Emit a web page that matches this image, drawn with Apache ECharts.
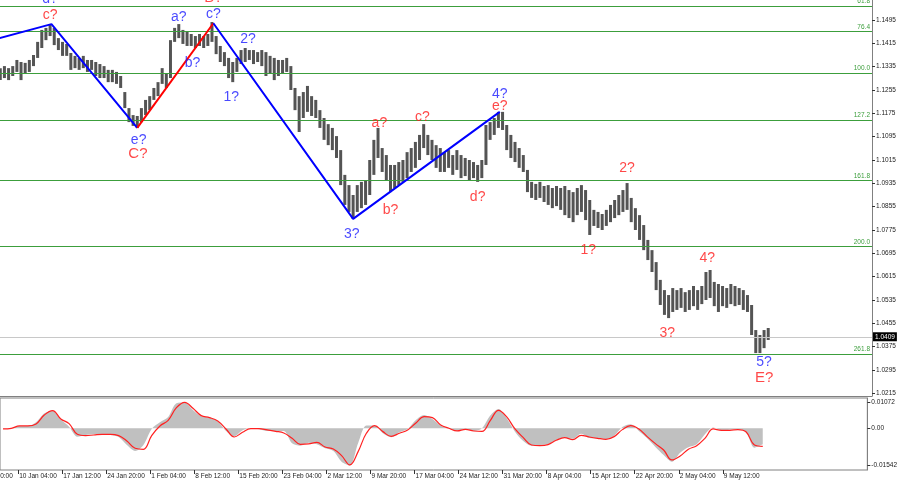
<!DOCTYPE html>
<html><head><meta charset="utf-8">
<script src="https://cdn.jsdelivr.net/npm/echarts@6/dist/echarts.min.js"></script>
<style>html,body{margin:0;padding:0;background:#fff}#c{width:900px;height:485px}</style>
</head><body><div id="c"></div>
<script>
// ---- data (H4 bar index on x; each price bar below aggregates 3 H4 bars = 12h) ----
const timeTickValues = [0,32,64,96,128,160,192,224,256,288,320,352,384,416,448,480,512,544];
const timeTickLabels = ['31 Dec 20:00','10 Jan 04:00','17 Jan 12:00','24 Jan 20:00','1 Feb 04:00','8 Feb 12:00','15 Feb 20:00','23 Feb 04:00','2 Mar 12:00','9 Mar 20:00','17 Mar 04:00','24 Mar 12:00','31 Mar 20:00','8 Apr 04:00','15 Apr 12:00','22 Apr 20:00','2 May 04:00','9 May 12:00'];
const priceTicks = [1.0215,1.0295,1.0375,1.0455,1.0535,1.0615,1.0695,1.0775,1.0855,1.0935,1.1015,1.1095,1.1175,1.1255,1.1335,1.1415,1.1495];
const macdTicks = [-0.01542, 0, 0.01072];

const barFirstIndex = 19, barStep = 3;
const priceHigh = [1.1330,1.1337,1.1330,1.1337,1.1358,1.1351,1.1348,1.1358,1.1375,1.1420,
1.1461,1.1468,1.1481,1.1468,1.1433,1.1420,1.1413,1.1382,1.1372,1.1365,
1.1372,1.1358,1.1358,1.1351,1.1344,1.1337,1.1324,1.1324,1.1317,1.1303,
1.1248,1.1193,1.1169,1.1166,1.1193,1.1221,1.1234,1.1262,1.1282,1.1330,
1.1310,1.1426,1.1468,1.1481,1.1461,1.1454,1.1447,1.1440,1.1447,1.1440,
1.1447,1.1488,1.1440,1.1406,1.1385,1.1365,1.1351,1.1365,1.1392,1.1399,
1.1392,1.1392,1.1385,1.1392,1.1385,1.1372,1.1365,1.1358,1.1358,1.1365,
1.1337,1.1262,1.1234,1.1248,1.1269,1.1234,1.1221,1.1186,1.1159,1.1138,
1.1125,1.1097,1.1049,1.0964,1.0929,1.0895,1.0929,1.0940,1.0946,1.1015,
1.1084,1.1125,1.1056,1.1032,1.0998,1.0998,1.1008,1.1015,1.1042,1.1056,
1.1077,1.1101,1.1138,1.1101,1.1084,1.1066,1.1056,1.1042,1.1049,1.1032,
1.1049,1.1032,1.1022,1.1015,1.1008,1.0998,1.1015,1.1135,1.1145,1.1159,
1.1180,1.1180,1.1135,1.1101,1.1077,1.1056,1.1032,1.0981,1.0940,1.0933,
1.0940,1.0926,1.0929,1.0919,1.0926,1.0919,1.0926,1.0912,1.0905,1.0919,
1.0929,1.0912,1.0878,1.0844,1.0837,1.0830,1.0844,1.0861,1.0878,1.0895,
1.0912,1.0936,1.0885,1.0850,1.0826,1.0792,1.0741,1.0706,1.0665,1.0604,
1.0569,1.0552,1.0576,1.0569,1.0576,1.0562,1.0569,1.0583,1.0569,1.0583,
1.0631,1.0638,1.0597,1.0590,1.0583,1.0576,1.0590,1.0583,1.0576,1.0569,
1.0552,1.0518,1.0432,1.0415,1.0432,1.0439];
const priceLow = [1.1289,1.1296,1.1289,1.1303,1.1317,1.1289,1.1310,1.1317,1.1337,1.1365,
1.1399,1.1426,1.1440,1.1409,1.1392,1.1372,1.1372,1.1324,1.1330,1.1324,
1.1330,1.1317,1.1324,1.1303,1.1296,1.1296,1.1282,1.1282,1.1276,1.1262,
1.1193,1.1145,1.1132,1.1125,1.1145,1.1169,1.1186,1.1221,1.1234,1.1276,
1.1262,1.1296,1.1420,1.1433,1.1413,1.1406,1.1406,1.1399,1.1406,1.1399,
1.1406,1.1420,1.1378,1.1351,1.1337,1.1296,1.1282,1.1317,1.1344,1.1351,
1.1358,1.1344,1.1351,1.1337,1.1303,1.1310,1.1289,1.1303,1.1310,1.1317,
1.1255,1.1186,1.1111,1.1159,1.1180,1.1166,1.1159,1.1125,1.1084,1.1066,
1.1049,1.1022,1.0929,1.0861,1.0837,1.0813,1.0837,1.0850,1.0861,1.0895,
1.0964,1.1022,1.0974,1.0946,1.0905,1.0919,1.0929,1.0940,1.0953,1.0974,
1.0988,1.1015,1.1056,1.1032,1.1015,1.0988,1.0974,1.0974,1.0988,1.0964,
1.0981,1.0953,1.0960,1.0946,1.0953,1.0940,1.0953,1.0998,1.1084,1.1101,
1.1125,1.1118,1.1049,1.1022,1.1008,1.0988,1.0974,1.0905,1.0885,1.0878,
1.0885,1.0871,1.0861,1.0850,1.0857,1.0844,1.0826,1.0816,1.0802,1.0826,
1.0837,1.0809,1.0758,1.0789,1.0782,1.0775,1.0789,1.0802,1.0816,1.0826,
1.0837,1.0844,1.0802,1.0775,1.0741,1.0706,1.0672,1.0631,1.0569,1.0518,
1.0484,1.0473,1.0494,1.0501,1.0508,1.0494,1.0501,1.0514,1.0501,1.0521,
1.0535,1.0542,1.0514,1.0494,1.0514,1.0508,1.0521,1.0514,1.0518,1.0501,
1.0494,1.0415,1.0353,1.0353,1.0370,1.0398];
const lastPrice = 1.0409;

const fibNames = ['61.8','76.4','100.0','127.2','161.8','200.0','261.8'];
const fibLevels = [1.1543,1.1455,1.1314,1.1152,1.0945,1.0718,1.0350];

const blueWave1 = [[10,1.1422],[56,1.1481],[118,1.1125]];
const redWave = [[118,1.1125],[173,1.1484]];
const blueWave2 = [[173,1.1484],[274,1.0813],[380,1.1180]];

const blueLabels = [['d?',55,1.1567],['e?',119,1.1084],['a?',148,1.1505],['c?',173,1.1516],['b?',158,1.1348],['1?',186,1.1231],['2?',198,1.1430],['3?',273,1.0761],['4?',380,1.1241],['5?',571,1.0322]];
const redLabels = [['c?',55,1.1512],['a?',293,1.1142],['b?',301,1.0844],['c?',324,1.1162],['d?',364,1.0888],['e?',380,1.1200],['1?',444,1.0706],['2?',472,1.0988],['3?',501,1.0422],['4?',530,1.0679]];
const redMajorLabels = [['C?',118.5,1.1036],['B?',173,1.1570],['E?',571,1.0267]];

const macdFirstIndex = 21, macdStep = 6;
const macdHist = [-0.00014,0,0.00097,0.00097,0.00249,0.00622,0.00733,0.00360,0.00069,-0.00346,
-0.00277,-0.00249,-0.00249,-0.00277,-0.00360,-0.00692,-0.00940,-0.00692,-0.00028,0.00249,
0.00470,0.01037,0.01072,0.00761,0.00498,0.00443,0.00277,-0.00111,-0.00332,-0.00083,
0,-0.00041,-0.00111,-0.00111,-0.00111,-0.00622,-0.00719,-0.00595,-0.00664,-0.00830,
-0.00940,-0.01383,-0.01542,-0.00622,0.00111,0.00111,-0.00207,-0.00373,-0.00166,-0.00028,
0.00346,0.00553,0.00387,0.00111,-0.00014,-0.00111,-0.00041,-0.00111,0,0.00526,
0.00802,0.00415,-0.00138,-0.00526,-0.00719,-0.00692,-0.00650,-0.00484,-0.00387,-0.00429,
-0.00221,-0.00401,-0.00415,-0.00443,-0.00304,0.00055,0.00166,-0.00111,-0.00415,-0.00774,
-0.01106,-0.01383,-0.01010,-0.00788,-0.00664,-0.00249,0.00028,-0.00083,-0.00055,-0.00028,
-0.00180,-0.00802,-0.00664];
const macdSignal = [-0.00028,0,0.00097,0.00097,0.00180,0.00553,0.00733,0.00387,0.00194,-0.00249,
-0.00304,-0.00277,-0.00249,-0.00249,-0.00304,-0.00526,-0.00830,-0.00871,-0.00304,0.00097,
0.00332,0.00857,0.01079,0.00830,0.00526,0.00443,0.00304,-0.00028,-0.00360,-0.00166,
-0.00014,-0.00014,-0.00069,-0.00125,-0.00194,-0.00415,-0.00664,-0.00650,-0.00581,-0.00774,
-0.00857,-0.01134,-0.01521,-0.00968,-0.00207,0.00111,-0.00138,-0.00332,-0.00207,-0.00069,
0.00221,0.00484,0.00443,0.00138,0,-0.00111,-0.00041,-0.00111,-0.00125,0.00318,
0.00747,0.00470,-0.00028,-0.00387,-0.00692,-0.00719,-0.00678,-0.00498,-0.00387,-0.00470,
-0.00290,-0.00360,-0.00415,-0.00456,-0.00346,-0.00055,0.00111,-0.00028,-0.00346,-0.00636,
-0.00899,-0.01314,-0.01148,-0.00871,-0.00719,-0.00415,-0.00028,-0.00083,-0.00083,-0.00055,
-0.00152,-0.00692,-0.00747];

// ---- build ----
const FONT = 'Liberation Sans';
const X_MIN = 18.8, X_MAX = 649;
const bars = priceHigh.map((h, i) => [barFirstIndex + barStep * i, priceLow[i], h]);
const histData = macdHist.map((v, i) => [macdFirstIndex + macdStep * i, v]);
const sigData = macdSignal.map((v, i) => [macdFirstIndex + macdStep * i, v]);
const toItems = arr => arr.map(a => ({ name: a[0], value: [a[1], a[2]] }));
const GREEN = '#3c9e3c';

const labelSeries = (items, color, size) => ({
  type: 'scatter', xAxisIndex: 0, yAxisIndex: 0, data: toItems(items), symbol: 'circle', symbolSize: 1,
  itemStyle: { color: 'rgba(0,0,0,0)' }, clip: false, z: 10, silent: true,
  label: { show: true, position: 'inside', formatter: '{b}', color: color, fontSize: size, fontFamily: FONT }
});

const chart = echarts.init(document.getElementById('c'), null, { renderer: 'canvas' });
chart.setOption({
  animation: false,
  backgroundColor: '#ffffff',
  grid: [
    { left: 0, right: 28, top: 0, height: 396, show: false },
    { left: 0, right: 28, top: 398, height: 72, show: true, borderColor: '#808080', borderWidth: 1, backgroundColor: 'transparent' }
  ],
  xAxis: [
    { gridIndex: 0, type: 'value', min: X_MIN, max: X_MAX, axisLine: { show: true, onZero: false, lineStyle: { color: '#808080' } },
      axisTick: { show: false }, axisLabel: { show: false }, splitLine: { show: false } },
    { gridIndex: 1, type: 'value', min: X_MIN, max: X_MAX, axisLine: { show: false, onZero: false },
      axisTick: { show: true, customValues: timeTickValues.slice(1), length: 4, lineStyle: { color: '#333' } },
      axisLabel: { show: true, customValues: timeTickValues.slice(1), showMinLabel: true, showMaxLabel: true, align: 'left', margin: 3, padding: [0,0,0,1],
        fontSize: 6.5, fontFamily: FONT, color: '#222', formatter: v => timeTickLabels[timeTickValues.indexOf(v)] || '' },
      splitLine: { show: false } }
  ],
  yAxis: [
    { gridIndex: 0, type: 'value', position: 'right', min: 1.02059, max: 1.15636,
      axisLine: { show: true, lineStyle: { color: '#808080' } },
      axisTick: { show: true, customValues: priceTicks, length: 3, lineStyle: { color: '#333' } },
      axisLabel: { show: true, customValues: priceTicks, margin: 4, fontSize: 6.5, fontFamily: FONT, color: '#222', formatter: v => v.toFixed(4) },
      splitLine: { show: false } },
    { gridIndex: 1, type: 'value', position: 'right', min: -0.0173, max: 0.01257,
      axisLine: { show: true, lineStyle: { color: '#808080' } },
      axisTick: { show: true, customValues: macdTicks, length: 3, lineStyle: { color: '#333' } },
      axisLabel: { show: true, customValues: macdTicks, margin: 4, fontSize: 6.5, fontFamily: FONT, color: '#222', formatter: v => v === 0 ? '0.00' : v.toFixed(5) },
      splitLine: { show: false } }
  ],
  series: [
    { type: 'line', name: 'levels', xAxisIndex: 0, yAxisIndex: 0, data: [], z: 1, silent: true,
      markLine: { symbol: 'none', silent: true, animation: false, precision: 6,
        data: fibLevels.map((v, i) => ({ yAxis: v, lineStyle: { color: GREEN, width: 1.2, type: 'solid' },
          label: { show: true, position: 'insideEndTop', formatter: fibNames[i], color: GREEN, fontSize: 6.5, fontFamily: FONT, distance: [2, 1] } }))
          .concat([{ yAxis: lastPrice, lineStyle: { color: '#c8c8c8', width: 1, type: 'solid' },
            label: { show: true, position: 'end', formatter: lastPrice.toFixed(4), color: '#fff', backgroundColor: '#000', fontSize: 6.5, fontFamily: FONT, padding: [1, 2, 1, 2], distance: 1 } }])
      }
    },
    { type: 'custom', name: 'EURUSD H4', xAxisIndex: 0, yAxisIndex: 0, data: bars, encode: { x: 0, y: [1, 2] }, clip: true, z: 3,
      renderItem: (params, api) => {
        const x = api.value(0);
        const a = api.coord([x, api.value(2)]);
        const b = api.coord([x, api.value(1)]);
        return { type: 'line', shape: { x1: a[0], y1: a[1], x2: b[0], y2: b[1] }, style: { stroke: '#545454', lineWidth: 3 } };
      }
    },
    { type: 'line', xAxisIndex: 0, yAxisIndex: 0, data: blueWave1, showSymbol: false, clip: true, z: 6, lineStyle: { color: '#0000ff', width: 2 } },
    { type: 'line', xAxisIndex: 0, yAxisIndex: 0, data: redWave, showSymbol: false, clip: true, z: 6, lineStyle: { color: '#ff0000', width: 2 } },
    { type: 'line', xAxisIndex: 0, yAxisIndex: 0, data: blueWave2, showSymbol: false, clip: true, z: 6, lineStyle: { color: '#0000ff', width: 2 } },
    labelSeries(blueLabels, '#1a1aff', 14),
    labelSeries(redLabels, '#ff1a1a', 14),
    labelSeries(redMajorLabels, '#ff1a1a', 15),
    { type: 'line', name: 'MACD', xAxisIndex: 1, yAxisIndex: 1, data: histData, showSymbol: false, smooth: 0.3, z: 2,
      lineStyle: { width: 0 }, itemStyle: { color: '#c0c0c0' }, areaStyle: { color: '#c0c0c0', opacity: 1 } },
    { type: 'line', name: 'Signal', xAxisIndex: 1, yAxisIndex: 1, data: sigData, showSymbol: false, smooth: 0.4, z: 3,
      lineStyle: { color: '#ff2020', width: 1.2 } }
  ]
});
// first time label lies left of the visible range; place it through the axis scale
const px0 = chart.convertToPixel({ xAxisIndex: 1 }, timeTickValues[0]);
chart.setOption({ graphic: [{ type: 'text', x: px0, y: 473, silent: true,
  style: { text: timeTickLabels[0], fontSize: 6.5, fontFamily: FONT, fill: '#222' } }] });
</script></body></html>
